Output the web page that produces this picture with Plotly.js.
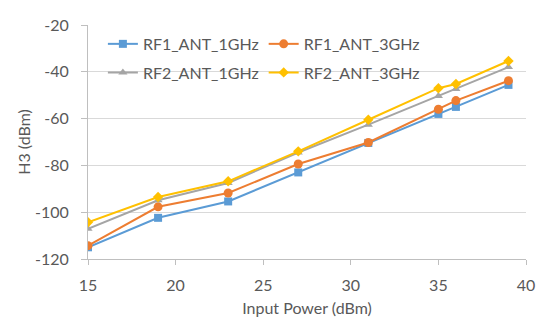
<!DOCTYPE html>
<html>
<head>
<meta charset="utf-8">
<script src="https://cdn.plot.ly/plotly-3.0.1.min.js"></script>
<style>html,body{margin:0;padding:0;background:#fff;}#chart{width:550px;height:328px;}</style>
</head>
<body>
<div id="chart"></div>
<script>
const inputPower = [15, 19, 23, 27, 31, 35, 36, 39];
const rf1Ant1GHz = [-115, -102.4, -95.4, -83, -70.4, -58, -55, -45.6];
const rf1Ant3GHz = [-114.3, -97.7, -91.8, -79.4, -70.2, -56, -52.3, -43.8];
const rf2Ant1GHz = [-107.1, -94.9, -87.5, -74.5, -62.6, -50.3, -47.4, -38];
const rf2Ant3GHz = [-104.3, -93.5, -86.8, -74, -60.5, -47, -45.2, -35.4];
const seriesNames = ['RF1_ANT_1GHz', 'RF1_ANT_3GHz', 'RF2_ANT_1GHz', 'RF2_ANT_3GHz'];
const xTickVals = [15, 20, 25, 30, 35, 40];
const xTickText = ['15', '20', '25', '30', '35', '40'];
const yTickVals = [-120, -100, -80, -60, -40, -20];
const yTickText = ['-120', '-100', '-80', '-60', '-40', '-20'];

const colors = ['#5B9BD5', '#ED7D31', '#A5A5A5', '#FFC000'];
const symbols = ['square', 'circle', 'triangle-up', 'diamond'];
const sizes = [8, 9, 8, 8];
const legendIds = ['legend', 'legend', 'legend2', 'legend2'];
const ys = [rf1Ant1GHz, rf1Ant3GHz, rf2Ant1GHz, rf2Ant3GHz];

const traces = ys.map((y, i) => ({
  x: inputPower, y: y, name: seriesNames[i], type: 'scatter', mode: 'lines+markers',
  legend: legendIds[i],
  line: {color: colors[i], width: 2},
  marker: {color: colors[i], symbol: symbols[i], size: sizes[i]}
}));

const fontFam = 'Lato, "Open Sans", sans-serif';
const txt = '#595959';
const legendCommon = {orientation: 'h', xanchor: 'left', yanchor: 'middle',
  bgcolor: 'rgba(255,255,255,0)', font: {size: 16, color: txt, family: fontFam}};
const layout = {
  width: 550, height: 328,
  margin: {l: 88, r: 24, t: 25, b: 68.5},
  paper_bgcolor: '#fff', plot_bgcolor: '#fff',
  font: {family: fontFam, color: txt, size: 16},
  showlegend: true,
  legend: Object.assign({x: 0.034, y: 0.919}, legendCommon),
  legend2: Object.assign({x: 0.034, y: 0.797}, legendCommon),
  xaxis: {range: [15, 40], tickvals: xTickVals, ticktext: xTickText, showgrid: false, zeroline: false,
    showline: true, linecolor: '#bfbfbf', linewidth: 1, ticks: 'outside', ticklen: 5, tickcolor: '#bfbfbf',
    ticklabelstandoff: 7,
    tickfont: {size: 16, color: txt},
    title: {text: 'Input Power (dBm)', font: {size: 16, color: txt}, standoff: 9}},
  yaxis: {range: [-120, -20], tickvals: yTickVals, ticktext: yTickText, showgrid: true, gridcolor: '#d9d9d9', zeroline: false,
    showline: true, linecolor: '#bfbfbf', linewidth: 1, ticks: 'outside', ticklen: 6, tickcolor: '#bfbfbf',
    ticklabelstandoff: 9,
    tickfont: {size: 16, color: txt},
    title: {text: 'H3 (dBm)', font: {size: 16, color: txt}, standoff: 0}}
};
Plotly.newPlot('chart', traces, layout, {displayModeBar: false, staticPlot: true});
</script>
</body>
</html>
